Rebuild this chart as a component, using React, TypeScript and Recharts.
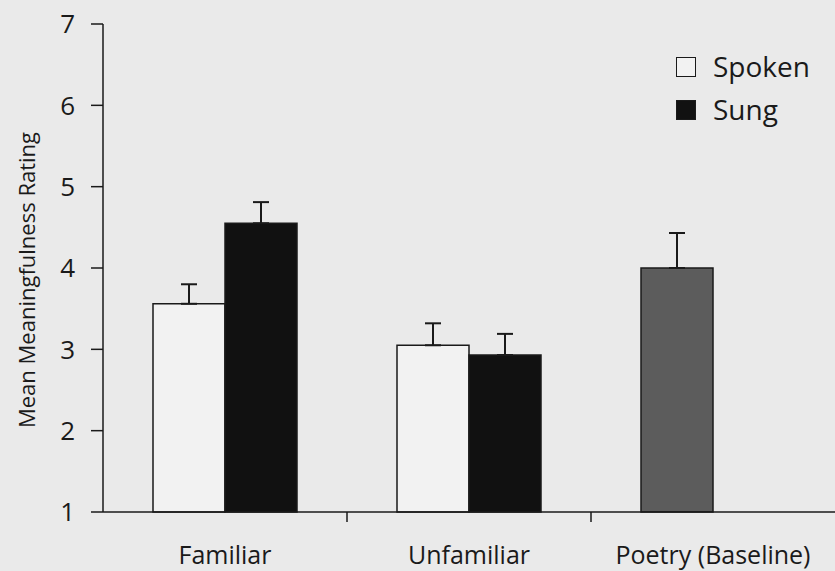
import { BarChart, Bar, XAxis, YAxis, ErrorBar, Cell, Label } from 'recharts';

const categories = ['Familiar', 'Unfamiliar', 'Poetry (Baseline)'];
const spoken = [3.56, 3.05, 4.0];
const spokenErr = [0.24, 0.27, 0.43];
const sung = [4.55, 2.93, null];
const sungErr = [0.26, 0.26, null];
const yTicks = [1, 2, 3, 4, 5, 6, 7];

const data = categories.map((name, i) => ({
  name,
  spoken: spoken[i],
  spokenErr: [0, spokenErr[i]],
  sung: sung[i],
  sungErr: sungErr[i] == null ? null : [0, sungErr[i]],
}));

const FONT = '"Open Sans", "DejaVu Sans", sans-serif';
const INK = '#1a1a1a';
const PLOT_LEFT = 103;
const PLOT_WIDTH = 835 - PLOT_LEFT;
const BAND = PLOT_WIDTH / categories.length;

function CategoryTick(props: any) {
  const { x = 0, y = 0, payload } = props;
  const boundary = x + BAND / 2;
  return (
    <g>
      {payload.index < categories.length - 1 && (
        <line x1={boundary} y1={y - 8} x2={boundary} y2={y + 2} stroke={INK} strokeWidth={1.5} />
      )}
      <text x={x} y={y + 44} textAnchor="middle" fontSize={25} fontFamily={FONT} fill={INK}>
        {payload.value}
      </text>
    </g>
  );
}

function AxisTitle(props: any) {
  const { viewBox } = props;
  const cx = 35;
  const cy = viewBox.y + viewBox.height / 2 + 12;
  return (
    <text
      x={cx}
      y={cy}
      transform={`rotate(-90, ${cx}, ${cy})`}
      textAnchor="middle"
      fontSize={22}
      fontFamily={FONT}
      fill={INK}
    >
      Mean Meaningfulness Rating
    </text>
  );
}

function LegendBox() {
  const items = [
    { label: 'Spoken', fill: '#f2f2f2' },
    { label: 'Sung', fill: '#111111' },
  ];
  return (
    <div
      style={{
        position: 'absolute',
        left: 676,
        top: 45,
        fontFamily: FONT,
        fontSize: 28,
        color: INK,
        lineHeight: '43px',
      }}
    >
      {items.map((it) => (
        <div key={it.label} style={{ display: 'flex', alignItems: 'center' }}>
          <span
            style={{
              display: 'inline-block',
              width: 18,
              height: 18,
              background: it.fill,
              border: `1.5px solid ${INK}`,
              marginRight: 17,
            }}
          />
          {it.label}
        </div>
      ))}
    </div>
  );
}

export default function App() {
  return (
    <div style={{ position: 'absolute', left: 0, top: 0, width: 835, height: 571, background: '#eaeaea' }}>
      <BarChart
        width={835}
        height={571}
        data={data}
        margin={{ top: 24, right: 0, left: 0, bottom: 0 }}
        barSize={72}
        barGap={0}
      >
        <XAxis
          dataKey="name"
          height={59}
          axisLine={{ stroke: INK, strokeWidth: 1.5 }}
          tickLine={false}
          tick={<CategoryTick />}
          interval={0}
        />
        <YAxis
          domain={[1, 7]}
          ticks={yTicks}
          width={PLOT_LEFT}
          axisLine={{ stroke: INK, strokeWidth: 1.5 }}
          tickLine={{ stroke: INK, strokeWidth: 1.5 }}
          tickSize={12}
          tick={{ fontSize: 26, fill: INK, fontFamily: FONT, dx: -14 }}
        >
          <Label content={<AxisTitle />} />
        </YAxis>
        <Bar dataKey="spoken" name="Spoken" fill="#f2f2f2" stroke={INK} strokeWidth={1.5} isAnimationActive={false}>
          {data.map((d, i) => (
            <Cell key={i} fill={i === 2 ? '#5c5c5c' : '#f2f2f2'} />
          ))}
          <ErrorBar dataKey="spokenErr" direction="y" width={8} stroke={INK} strokeWidth={2} isAnimationActive={false} />
        </Bar>
        <Bar dataKey="sung" name="Sung" fill="#111111" stroke={INK} strokeWidth={1.5} isAnimationActive={false}>
          <ErrorBar dataKey="sungErr" direction="y" width={8} stroke={INK} strokeWidth={2} isAnimationActive={false} />
        </Bar>
      </BarChart>
      <LegendBox />
    </div>
  );
}
